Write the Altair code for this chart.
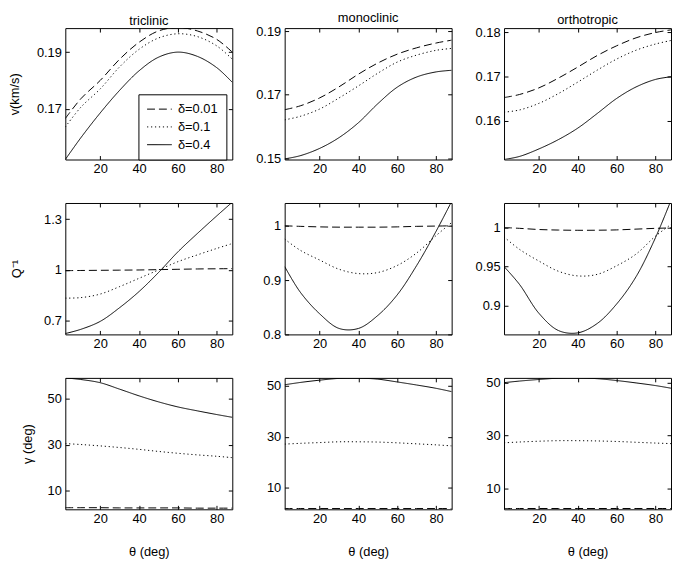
import altair as alt
import pandas as pd

FONT = "Liberation Sans"

THETA = [2, 10, 20, 30, 40, 50, 60, 70, 80, 88]
SERIES = ["δ=0.01", "δ=0.1", "δ=0.4"]
XTICKS = [20, 40, 60, 80]
COLUMNS = ["triclinic", "monoclinic", "orthotropic"]

# velocity v (km/s)
V_TRI_001 = [0.1665, 0.1735, 0.1800, 0.1875, 0.1935, 0.1975, 0.1987, 0.1975, 0.1945, 0.1900]
V_TRI_01 = [0.1635, 0.1705, 0.1770, 0.1848, 0.1910, 0.1950, 0.1965, 0.1955, 0.1922, 0.1875]
V_TRI_04 = [0.1520, 0.1597, 0.1685, 0.1765, 0.1834, 0.1882, 0.1900, 0.1885, 0.1845, 0.1793]

V_MONO_001 = [0.1653, 0.1665, 0.1690, 0.1725, 0.1765, 0.1800, 0.1828, 0.1848, 0.1863, 0.1872]
V_MONO_01 = [0.1621, 0.1632, 0.1655, 0.1690, 0.1728, 0.1768, 0.1803, 0.1825, 0.1840, 0.1846]
V_MONO_04 = [0.1498, 0.1508, 0.1531, 0.1565, 0.1612, 0.1672, 0.1724, 0.1756, 0.1772, 0.1777]

V_ORTHO_001 = [0.1653, 0.1660, 0.1675, 0.1697, 0.1722, 0.1748, 0.1770, 0.1788, 0.1800, 0.1806]
V_ORTHO_01 = [0.1620, 0.1625, 0.1640, 0.1662, 0.1688, 0.1715, 0.1740, 0.1760, 0.1774, 0.1782]
V_ORTHO_04 = [0.1513, 0.1520, 0.1537, 0.1558, 0.1584, 0.1617, 0.1651, 0.1677, 0.1694, 0.1700]

# attenuation Q^-1
Q_TRI_001 = [0.996, 0.997, 0.998, 0.999, 1.000, 1.002, 1.004, 1.006, 1.007, 1.008]
Q_TRI_01 = [0.834, 0.837, 0.858, 0.902, 0.951, 1.000, 1.049, 1.089, 1.127, 1.156]
Q_TRI_04 = [0.625, 0.650, 0.697, 0.778, 0.873, 0.985, 1.107, 1.215, 1.319, 1.400]

Q_MONO_001 = [1.000, 0.999, 0.998, 0.9975, 0.9975, 0.9975, 0.998, 0.999, 0.9995, 1.000]
Q_MONO_01 = [0.9756, 0.955, 0.937, 0.920, 0.912, 0.914, 0.927, 0.950, 0.982, 1.006]
Q_MONO_04 = [0.925, 0.878, 0.838, 0.811, 0.811, 0.835, 0.873, 0.927, 0.990, 1.045]

Q_ORTHO_001 = [1.000, 0.999, 0.9975, 0.9968, 0.9965, 0.9966, 0.997, 0.998, 0.999, 0.9995]
Q_ORTHO_01 = [0.988, 0.972, 0.957, 0.944, 0.938, 0.940, 0.951, 0.966, 0.989, 1.004]
Q_ORTHO_04 = [0.950, 0.927, 0.890, 0.868, 0.865, 0.877, 0.902, 0.937, 0.987, 1.035]

# angle gamma (deg)
G_TRI_001 = [2.7, 2.7, 2.7, 2.6, 2.6, 2.6, 2.6, 2.5, 2.5, 2.5]
G_TRI_01 = [30.5, 30.1, 29.5, 28.8, 28.0, 27.1, 26.3, 25.6, 25.0, 24.4]
G_TRI_04 = [59.0, 58.3, 56.9, 54.1, 51.2, 48.6, 46.4, 44.7, 43.1, 41.9]

G_MONO_001 = [1.8, 1.8, 1.8, 1.8, 1.8, 1.8, 1.8, 1.8, 1.8, 1.8]
G_MONO_01 = [27.1, 27.4, 27.7, 28.0, 28.0, 27.9, 27.6, 27.2, 26.8, 26.4]
G_MONO_04 = [50.4, 51.3, 52.2, 52.9, 53.0, 52.6, 51.5, 50.3, 49.0, 47.7]

G_ORTHO_001 = [2.5, 2.5, 2.5, 2.5, 2.5, 2.5, 2.5, 2.5, 2.5, 2.5]
G_ORTHO_01 = [27.3, 27.6, 27.9, 28.1, 28.1, 28.0, 27.8, 27.5, 27.2, 27.0]
G_ORTHO_04 = [50.0, 50.6, 51.2, 51.7, 51.8, 51.5, 50.8, 49.9, 48.9, 47.9]

YDOMAINS = [
    [0.152, 0.1985], [0.1496, 0.191], [0.1513, 0.181],
    [0.62, 1.395], [0.8, 1.042], [0.863, 1.0315],
    [2.0, 59.0], [1.5, 53.1], [2.2, 51.8],
]
YTICKS = [
    [0.17, 0.19], [0.15, 0.17, 0.19], [0.16, 0.17, 0.18],
    [0.7, 1.0, 1.3], [0.8, 0.9, 1.0], [0.9, 0.95, 1.0],
    [10, 30, 50], [10, 30, 50], [10, 30, 50],
]
YTITLES = ["v(km/s)", "Q⁻¹", "γ (deg)"]
XTITLE = "θ (deg)"

PANELS = [
    (V_TRI_001, V_TRI_01, V_TRI_04), (V_MONO_001, V_MONO_01, V_MONO_04), (V_ORTHO_001, V_ORTHO_01, V_ORTHO_04),
    (Q_TRI_001, Q_TRI_01, Q_TRI_04), (Q_MONO_001, Q_MONO_01, Q_MONO_04), (Q_ORTHO_001, Q_ORTHO_01, Q_ORTHO_04),
    (G_TRI_001, G_TRI_01, G_TRI_04), (G_MONO_001, G_MONO_01, G_MONO_04), (G_ORTHO_001, G_ORTHO_01, G_ORTHO_04),
]

W, H = 169, 133
DASHES = [[8, 4], [1.2, 2.8], [1, 0]]
YTITLE_PAD = [15, 20, 13]


def panel(idx):
    row, col = divmod(idx, 3)
    recs = []
    for s, vals in zip(SERIES, PANELS[idx]):
        for t, v in zip(THETA, vals):
            recs.append({"theta": t, "val": v, "series": s})
    df = pd.DataFrame(recs)
    xs = alt.Scale(domain=[2, 88], nice=False, zero=False)
    ys = alt.Scale(domain=YDOMAINS[idx], nice=False, zero=False)

    xaxis_kw = dict(orient="bottom", values=XTICKS, ticks=False, domain=False, grid=False,
                    labelPadding=3, titlePadding=21)
    xaxis_kw["title"] = XTITLE if row == 2 else None
    yaxis_kw = dict(orient="left", values=YTICKS[idx], format=".2~f", ticks=False, domain=False,
                    grid=False, labelPadding=4, titlePadding=YTITLE_PAD[row])
    yaxis_kw["title"] = YTITLES[row] if col == 0 else None

    if idx == 0:
        leg = alt.Legend(title=None, orient="none", legendX=74, legendY=67,
                         strokeColor="black", fillColor="white", padding=8,
                         symbolType="M-1,0H3", symbolSize=156, symbolStrokeWidth=1,
                         symbolStrokeColor="black", labelFontSize=13, labelFont=FONT,
                         labelColor="black", rowPadding=4, labelOffset=18)
    else:
        leg = None

    base = alt.Chart(df)
    lines = base.mark_line(clip=True, color="black", strokeWidth=1, interpolate="catmull-rom").encode(
        x=alt.X("theta:Q", scale=xs, axis=alt.Axis(**xaxis_kw)),
        y=alt.Y("val:Q", scale=ys, axis=alt.Axis(**yaxis_kw)),
        strokeDash=alt.StrokeDash("series:N", scale=alt.Scale(domain=SERIES, range=DASHES), legend=leg),
    )
    ticks_a = base.mark_line(strokeOpacity=0, clip=True).encode(
        x=alt.X("theta:Q", scale=xs, axis=alt.Axis(orient="top", offset=-H, values=XTICKS, labels=False,
                                                   domain=False, grid=False, tickSize=4, title=None)),
        y=alt.Y("val:Q", scale=ys, axis=alt.Axis(orient="right", offset=-W, values=YTICKS[idx], labels=False,
                                                 domain=False, grid=False, tickSize=4, title=None)),
        detail="series:N",
    )
    ticks_b = base.mark_line(strokeOpacity=0, clip=True).encode(
        x=alt.X("theta:Q", scale=xs, axis=alt.Axis(orient="bottom", offset=-H, values=XTICKS, labels=False,
                                                   domain=False, grid=False, tickSize=4, title=None)),
        y=alt.Y("val:Q", scale=ys, axis=alt.Axis(orient="left", offset=-W, values=YTICKS[idx], labels=False,
                                                 domain=False, grid=False, tickSize=4, title=None)),
        detail="series:N",
    )
    props = dict(width=W, height=H)
    if row == 0:
        props["title"] = alt.TitleParams(COLUMNS[col], fontSize=13, font=FONT, fontWeight="normal",
                                         color="black", offset=0, anchor="middle")
    return alt.layer(lines, ticks_a, ticks_b).properties(**props)


chart = alt.concat(
    *[panel(i) for i in range(9)],
    columns=3,
    spacing={"row": 44, "column": 53},
    bounds="flush",
).resolve_scale(strokeDash="independent").properties(
    padding=0, background="white"
).configure_view(
    stroke="black", strokeWidth=1
).configure_axis(
    labelFont=FONT, titleFont=FONT, labelFontSize=13, titleFontSize=13,
    labelColor="black", titleColor="black", tickColor="black", titleFontWeight="normal",
)

chart.save("out.html", embed_options={"renderer": "svg", "actions": False})
